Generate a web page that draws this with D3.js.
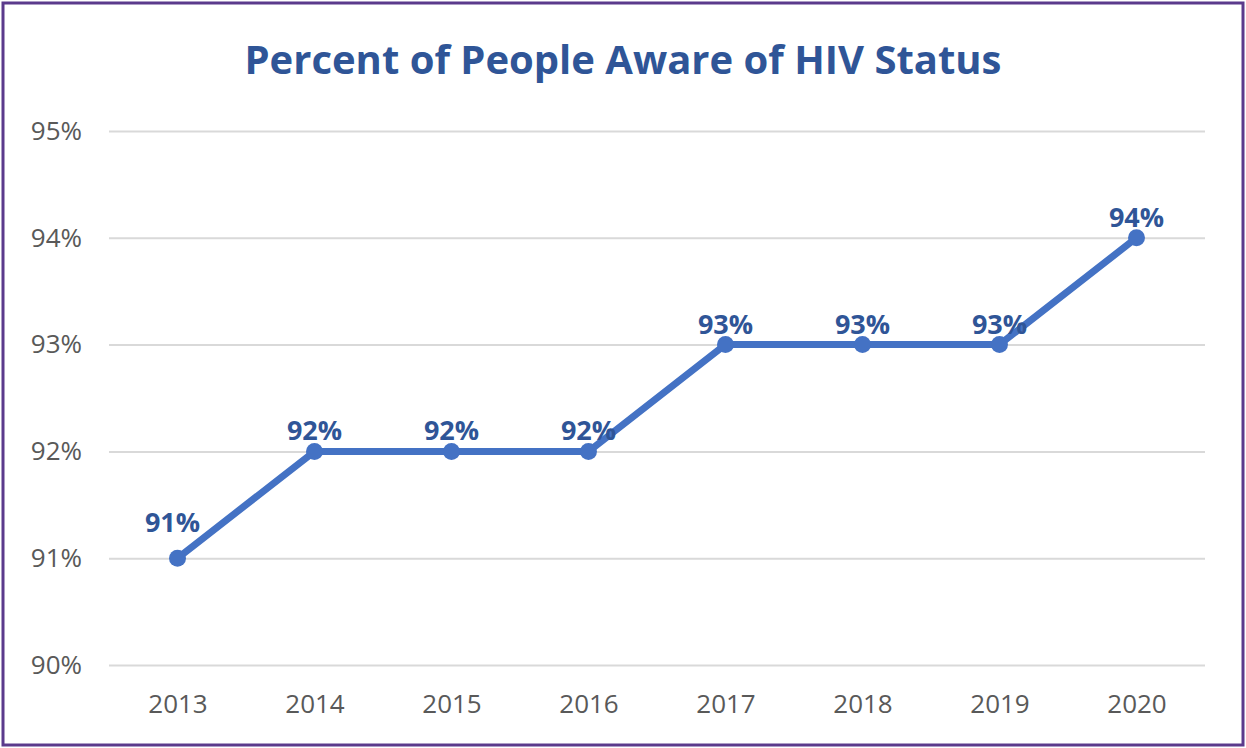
<!DOCTYPE html>
<html>
<head>
<meta charset="utf-8">
<script src="https://cdn.jsdelivr.net/npm/d3@7"></script>
<style>
  body { margin: 0; background: #fff; }
  svg { display: block; }
</style>
</head>
<body>
<div id="chart"></div>
<script>
  // Chart data
  var years = ["2013", "2014", "2015", "2016", "2017", "2018", "2019", "2020"];
  var percents = [91, 92, 92, 92, 93, 93, 93, 94];
  var yTicks = [90, 91, 92, 93, 94, 95];
  var chartTitle = "Percent of People Aware of HIV Status";

  var width = 1246, height = 748;
  var margin = { top: 131, right: 41, bottom: 83, left: 109 };

  var svg = d3.select("#chart").append("svg")
              .attr("width", width)
              .attr("height", height);

  // Outer frame
  svg.append("rect")
     .attr("x", 3).attr("y", 3)
     .attr("width", width - 6).attr("height", height - 6)
     .attr("fill", "#fff")
     .attr("stroke", "#5b3a8c")
     .attr("stroke-width", 3);

  // Scales
  var xScale = d3.scalePoint()
                 .domain(years)
                 .range([margin.left, width - margin.right])
                 .padding(0.5);

  var yScale = d3.scaleLinear()
                 .domain([90, 95])
                 .range([height - margin.bottom, margin.top]);

  // Title
  svg.append("text")
     .attr("x", 623).attr("y", 74)
     .attr("text-anchor", "middle")
     .attr("font-family", "'Open Sans', sans-serif")
     .attr("font-weight", "bold")
     .attr("font-size", 40)
     .attr("fill", "#2f5597")
     .text(chartTitle);

  // Gridlines + y labels
  var yAxis = d3.axisLeft(yScale)
                .tickValues(yTicks)
                .tickSize(-(width - margin.right - margin.left))
                .tickPadding(27)
                .tickFormat(function(d) { return d + "%"; });

  var gy = svg.append("g")
              .attr("transform", "translate(" + margin.left + ",0)")
              .call(yAxis);
  gy.select(".domain").remove();
  gy.selectAll(".tick line").attr("stroke", "#d9d9d9").attr("stroke-width", 2);
  gy.selectAll(".tick text")
    .attr("fill", "#595959")
    .attr("font-family", "'Open Sans', sans-serif")
    .attr("font-size", 26);

  // X labels
  var xAxis = d3.axisBottom(xScale).tickSize(0).tickPadding(30);
  var gx = svg.append("g")
              .attr("transform", "translate(0," + (height - margin.bottom) + ")")
              .call(xAxis);
  gx.select(".domain").remove();
  gx.selectAll(".tick text")
    .attr("fill", "#595959")
    .attr("font-family", "'Open Sans', sans-serif")
    .attr("font-size", 26);

  // Line
  var points = years.map(function(y, i) { return { year: y, value: percents[i] }; });

  var line = d3.line()
               .x(function(d) { return xScale(d.year); })
               .y(function(d) { return yScale(d.value); });

  svg.append("path")
     .datum(points)
     .attr("d", line)
     .attr("fill", "none")
     .attr("stroke", "#4472c4")
     .attr("stroke-width", 7)
     .attr("stroke-linejoin", "round");

  svg.selectAll("circle.pt")
     .data(points)
     .enter()
     .append("circle")
     .attr("class", "pt")
     .attr("cx", function(d) { return xScale(d.year); })
     .attr("cy", function(d) { return yScale(d.value); })
     .attr("r", 8.5)
     .attr("fill", "#4472c4");

  // Data labels (first one sits a bit higher and left, clear of the line)
  svg.selectAll("text.lbl")
     .data(points)
     .enter()
     .append("text")
     .attr("class", "lbl")
     .attr("x", function(d, i) { return xScale(d.year) - (i === 0 ? 5 : 0); })
     .attr("y", function(d, i) { return yScale(d.value) - (i === 0 ? 26 : 11); })
     .attr("text-anchor", "middle")
     .attr("font-family", "'Open Sans', sans-serif")
     .attr("font-weight", "bold")
     .attr("font-size", 27)
     .attr("fill", "#2f5597")
     .text(function(d) { return d.value + "%"; });
</script>
</body>
</html>
